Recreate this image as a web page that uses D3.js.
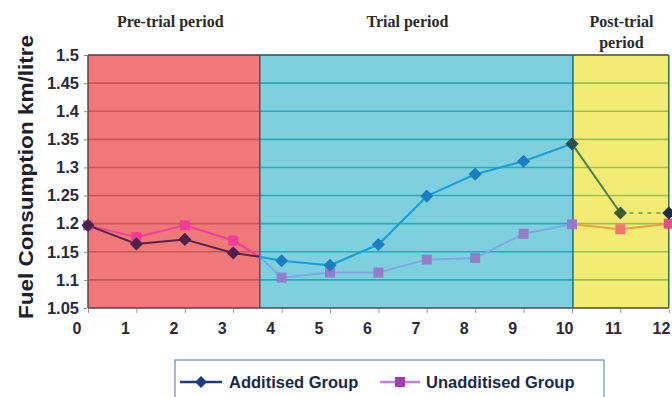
<!DOCTYPE html>
<html><head><meta charset="utf-8">
<script src="https://cdn.jsdelivr.net/npm/d3@7"></script>
<style>body{margin:0;background:#fff}svg{display:block}</style>
</head><body>
<svg id="c" width="672" height="397"></svg>
<script>
// ---- data ----
const weeks = [0,1,2,3,4,5,6,7,8,9,10,11,12];
const xTickLabels = ["0","1","2","3","4","5","6","7","8","9","10","11","12"];
const yTicks = [1.05,1.1,1.15,1.2,1.25,1.3,1.35,1.4,1.45,1.5];
const yTickLabels = ["1.05","1.1","1.15","1.2","1.25","1.3","1.35","1.4","1.45","1.5"];
const additised   = [1.197,1.164,1.172,1.148,1.134,1.126,1.163,1.249,1.288,1.311,1.342,1.219,1.219];
const unadditised = [1.197,1.176,1.197,1.170,1.104,1.113,1.113,1.136,1.139,1.182,1.199,1.190,1.200];
const periodNames = ["Pre-trial period","Trial period","Post-trial period"];
const periodStart = [0,3.55,10.02];
const periodEnd   = [3.55,10.02,12];
const junction = {x:3.55, v:1.141};
const seriesNames = ["Additised Group","Unadditised Group"];

// ---- layout ----
const svg = d3.select("#c");
const x = d3.scaleLinear().domain([0,12]).range([88,668.8]);
const y = d3.scaleLinear().domain([1.05,1.5]).range([308,55]);

const regionFill = ["#f07878","#7ed0de","#f2ec74"];
const gridCol = ["#c85858","#2aaabb","#9cc050"];

// regions
periodNames.forEach((n,i)=>{
  svg.append("rect").attr("x",x(periodStart[i])).attr("y",y(1.5))
    .attr("width",x(periodEnd[i])-x(periodStart[i])).attr("height",y(1.05)-y(1.5))
    .attr("fill",regionFill[i]);
  svg.append("g").selectAll("line").data(yTicks.slice(1,-1)).join("line")
    .attr("x1",x(periodStart[i])).attr("x2",x(periodEnd[i]))
    .attr("y1",d=>y(d)).attr("y2",d=>y(d))
    .attr("stroke",gridCol[i]).attr("stroke-width",1.6);
});
// borders
const bc = "#3a4a50";
svg.append("line").attr("x1",x(0)).attr("x2",x(12)).attr("y1",y(1.5)).attr("y2",y(1.5)).attr("stroke",bc).attr("stroke-width",1.5);
svg.append("line").attr("x1",x(0)).attr("x2",x(12)).attr("y1",y(1.05)).attr("y2",y(1.05)).attr("stroke","#4a4a4a").attr("stroke-width",1.3);
[0,3.55,10.02,12].forEach(v=>{
  svg.append("line").attr("x1",x(v)).attr("x2",x(v)).attr("y1",y(1.5)).attr("y2",y(1.05))
    .attr("stroke",v===0?"#5a3a3a":"#2a6060").attr("stroke-width",1.4);
});

// axes
const yAxis = d3.axisLeft(y).tickValues(yTicks).tickFormat((d,i)=>yTickLabels[i]).tickSize(3).tickPadding(5);
const gy = svg.append("g").attr("transform",`translate(${x(0)-1},0)`).call(yAxis);
gy.select(".domain").remove();
gy.selectAll(".tick line").attr("stroke","#888");
gy.selectAll("text").attr("font-family","Liberation Sans, Arial, sans-serif").attr("font-weight","bold")
  .attr("font-size",16.5).attr("fill","#2a2a3a");

const xAxis = d3.axisBottom(x).tickValues(weeks).tickFormat((d,i)=>xTickLabels[i]).tickSize(4).tickPadding(10);
const gx = svg.append("g").attr("transform",`translate(0,${y(1.05)+1})`).call(xAxis);
gx.select(".domain").remove();
gx.selectAll(".tick line").attr("stroke","#999");
gx.selectAll("text").attr("font-family","Liberation Sans, Arial, sans-serif").attr("font-weight","bold")
  .attr("font-size",16).attr("fill","#2a2a3a").attr("text-anchor","end")
  .attr("dx",d=>d<10?-7:1);

// y title
svg.append("text").attr("transform",`translate(33,${177}) rotate(-90)`)
  .attr("text-anchor","middle").attr("font-family","Liberation Sans, Arial, sans-serif")
  .attr("font-weight","bold").attr("font-size",20).attr("fill","#1e1e2e")
  .attr("textLength",284).attr("lengthAdjust","spacingAndGlyphs")
  .text("Fuel Consumption km/litre");

// period labels
const pl = svg.append("g").attr("font-family","Liberation Serif, Times New Roman, serif")
  .attr("font-weight","bold").attr("font-size",16).attr("fill","#2a2a2a").attr("text-anchor","middle");
pl.append("text").attr("x",x(1.7)).attr("y",27).text(periodNames[0]);
pl.append("text").attr("x",x(6.6)).attr("y",27).text(periodNames[1]);
pl.append("text").attr("x",x(11.02)).attr("y",27).text("Post-trial");
pl.append("text").attr("x",x(11.02)).attr("y",48).text("period");

// lines
const line = d3.line().x(d=>x(d.x)).y(d=>y(d.v));
const pts = arr => weeks.map((w,i)=>({x:w,v:arr[i]}));
const A = pts(additised), U = pts(unadditised);

function seg(data,color,w,dash){
  svg.append("path").datum(data).attr("d",line).attr("fill","none")
    .attr("stroke",color).attr("stroke-width",w).attr("stroke-dasharray",dash||null);
}
function diamonds(data,color,s){
  svg.append("g").selectAll("path").data(data).join("path")
    .attr("d",d3.symbol(d3.symbolDiamond2,s))
    .attr("transform",d=>`translate(${x(d.x)},${y(d.v)})`).attr("fill",color);
}
function squares(data,color,s){
  svg.append("g").selectAll("rect").data(data).join("rect")
    .attr("x",d=>x(d.x)-s/2).attr("y",d=>y(d.v)-s/2).attr("width",s).attr("height",s)
    .attr("fill",color).attr("opacity",0.95);
}
// pre-trial
seg(U.slice(0,4).concat([junction]),"#f0409a",2);
seg(A.slice(0,4).concat([junction]),"#5a2050",2);
// trial
seg([junction].concat(U.slice(4,11)),"#80a8e8",2);
seg([junction].concat(A.slice(4,11)),"#1aa0d8",2.2);
// post trial
seg(U.slice(10,13),"#f0a040",2);
seg(A.slice(10,12),"#4a8050",2);
seg(A.slice(11,13),"#6a9a50",1.4,"4,5");

squares(U.slice(1,4),"#f03a9a",10);
squares([U[0]],"#c050c0",10);
diamonds(A.slice(0,4),"#502048",110);
squares(U.slice(4,11),"#9878c8",10);
diamonds(A.slice(4,10),"#1a7ec0",110);
diamonds([A[10]],"#2a5050",110);
squares(U.slice(11,12),"#f07070",10);
squares([U[12]],"#e04888",10);
diamonds([A[11]],"#3a5a30",110);
diamonds([A[12]],"#202a40",110);

// legend
const lg = svg.append("g");
lg.append("rect").attr("x",175).attr("y",360).attr("width",429).attr("height",50)
  .attr("fill","#fff").attr("stroke","#6a9aa8").attr("stroke-width",1.3);
const ly = 382;
lg.append("line").attr("x1",180).attr("x2",222).attr("y1",ly).attr("y2",ly).attr("stroke","#203a80").attr("stroke-width",2.5);
lg.append("path").attr("d",d3.symbol(d3.symbolDiamond2,90)).attr("transform",`translate(201,${ly})`).attr("fill","#203a80");
lg.append("text").attr("x",229).attr("y",ly+6).text(seriesNames[0]);
lg.append("line").attr("x1",380).attr("x2",420).attr("y1",ly).attr("y2",ly).attr("stroke","#c080e0").attr("stroke-width",2.5);
lg.append("rect").attr("x",395).attr("y",ly-5).attr("width",10).attr("height",10).attr("fill","#a040b0");
lg.append("text").attr("x",426).attr("y",ly+6).text(seriesNames[1]);
lg.selectAll("text").attr("font-family","Liberation Sans, Arial, sans-serif").attr("font-weight","bold")
  .attr("font-size",16.5).attr("fill","#1a2a4a");
</script>
</body></html>
